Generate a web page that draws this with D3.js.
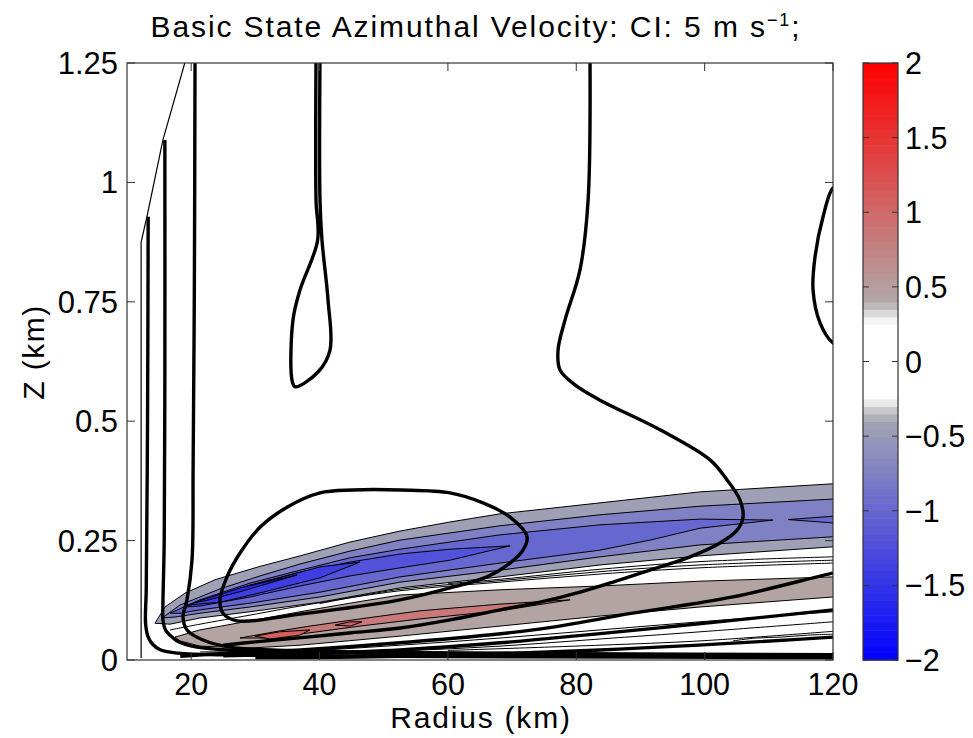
<!DOCTYPE html>
<html><head><meta charset="utf-8">
<script src="https://cdn.jsdelivr.net/npm/d3@7"></script>
<style>body{margin:0;background:#fff}text{font-family:"Liberation Sans",Arial,Helvetica,sans-serif;fill:#000}</style>
</head><body><svg id="c" width="973" height="738"></svg>
<script>
// ---------- axes / ticks ----------
const xDomain=[10,120], yDomain=[0,1.25], cbDomain=[-2,2];
const xTicks=[20,40,60,80,100,120];
const yTicks=[0,0.25,0.5,0.75,1,1.25];
const yTickLabels=["0","0.25","0.5","0.75","1","1.25"];
const cbTicks=[-2,-1.5,-1,-0.5,0,0.5,1,1.5,2];
const cbTickLabels=["\u22122","\u22121.5","\u22121","\u22120.5","0","0.5","1","1.5","2"];
// colormap anchor values / colours
const cmapStops=[-2,-0.4,-0.35,-0.3,-0.25,0.25,0.3,0.35,0.4,2];
const cmapColors=["#0000ff","#a4a4b4","#bdbdbd","#d6d6d6","#ffffff","#ffffff","#e6e6e6","#cccccc","#b2a8a8","#ff0000"];

// ---------- filled field regions (r km, z km) ----------
const negLevels=[-0.45,-0.75,-1.0,-1.0,-1.2,-1.4,-1.6];
const negRegion1=[[14.36,0.077],[15.92,0.111],[19.04,0.140],[23.71,0.168],[30.72,0.196],[36.96,0.218],[44.75,0.247],[52.54,0.270],[60.33,0.289],[68.12,0.306],[83.7,0.329],[99.28,0.352],[120,0.369],[121,0.369],[121,0.237],[120,0.237],[99.28,0.218],[83.7,0.199],[68.12,0.174],[52.54,0.151],[40.07,0.121],[29.17,0.101],[21.37,0.088],[16.7,0.075]];
const negRegion2=[[15.45,0.088],[18.26,0.115],[24.49,0.149],[30.72,0.176],[36.96,0.201],[44.75,0.228],[52.54,0.251],[68.12,0.281],[83.7,0.304],[99.28,0.322],[120,0.337],[121,0.337],[121,0.258],[120,0.258],[99.28,0.241],[83.7,0.216],[68.12,0.188],[52.54,0.163],[40.07,0.132],[29.17,0.111],[21.37,0.098],[17.48,0.090]];
const negRegion3=[[16.7,0.098],[21.37,0.126],[29.17,0.161],[36.96,0.188],[44.75,0.214],[52.54,0.232],[68.12,0.262],[83.7,0.283],[99.28,0.295],[110.66,0.293],[99.28,0.276],[91.49,0.251],[83.7,0.230],[68.12,0.203],[52.54,0.174],[40.07,0.142],[29.17,0.119],[21.37,0.105],[18.26,0.098]];
const negRegion3b=[[113,0.294],[120,0.301],[121,0.301],[121,0.287],[120,0.287]];
const negRegion4=[[19.04,0.111],[29.17,0.157],[36.96,0.184],[44.75,0.205],[52.54,0.222],[60.33,0.232],[69.68,0.239],[60.33,0.209],[52.54,0.193],[44.75,0.176],[36.96,0.155],[29.17,0.132],[21.37,0.113]];
const negRegion4b=[[19.35,0.115],[29.63,0.157],[40.07,0.195],[46.3,0.205],[40.07,0.172],[31.19,0.142],[24.49,0.121]];
const negRegion5=[[20.6,0.121],[27.61,0.151],[36.49,0.178],[27.61,0.143],[22.2,0.124]];
const posLevels=[0.45,0.85,1.1,1.1];
const posRegion1=[[17.48,0.048],[21.37,0.063],[29.17,0.082],[36.96,0.101],[44.75,0.119],[52.54,0.136],[68.12,0.147],[83.7,0.155],[99.28,0.165],[120,0.174],[121,0.174],[121,0.132],[120,0.132],[99.28,0.111],[83.7,0.092],[68.12,0.071],[52.54,0.050],[36.96,0.031],[29.17,0.025],[21.37,0.029],[18.26,0.040]];
const posRegion2=[[27.61,0.046],[33.84,0.061],[38.51,0.071],[46.3,0.086],[55.65,0.103],[68.12,0.117],[79.03,0.126],[68.12,0.103],[55.65,0.086],[46.3,0.071],[38.51,0.057],[32.28,0.046]];
const posRegion3=[[29.9,0.050],[33.8,0.059],[38.5,0.063],[36.9,0.052],[32.3,0.044]];
const posRegion3b=[[42.4,0.073],[44.8,0.080],[46.6,0.080],[44.8,0.071]];
// thin contour lines of the field inside white areas
const thinLine1=[[16.7,0.063],[21.37,0.075],[29.17,0.094],[36.96,0.113],[52.54,0.145],[68.12,0.163],[83.7,0.180],[99.28,0.193],[120,0.203]];
const thinLine2=[[60,0.160],[68.12,0.169],[83.7,0.190],[99.28,0.206],[120,0.216]];
const thinLine2b=[[40,0.118],[52.54,0.148],[68.12,0.166],[83.7,0.185],[99.28,0.199],[120,0.209]];
const thinLine3=[[21.37,0.017],[36.96,0.019],[52.54,0.031],[68.12,0.046],[83.7,0.063],[99.28,0.080],[120,0.101]];
const thinLine4=[[36.96,0.013],[52.54,0.019],[68.12,0.029],[83.7,0.044],[99.28,0.059],[120,0.080]];
const thinLine4b=[[60,0.02],[83.7,0.031],[99.28,0.040],[120,0.060]];
const thinLine5=[[104.4,0.040],[108,0.046],[112,0.048],[116,0.052],[120,0.054]];

// ---------- azimuthal velocity contours (r km, z km) ----------
const boundaryLine=[[12.2,0.004],[12.2,0.875],[13.1,0.928],[15.6,1.089],[19.0,1.25]];
const vLineB=[[13.3,0.928],[13.2,0.5],[13.0,0.15],[12.9,0.075],[13.3,0.048],[14.0,0.033],[15.1,0.022],[17.5,0.015],[25,0.011],[50,0.008],[90,0.006],[121,0.005]];
const vLineC=[[15.9,1.089],[15.9,0.6],[15.8,0.25],[15.6,0.12],[15.6,0.084],[16.0,0.063],[16.7,0.052],[17.8,0.040],[20.9,0.027],[27,0.020],[37,0.016],[60,0.012],[90,0.010],[121,0.009]];
const vLineC2=[[20.6,1.26],[20.5,0.8],[20.3,0.4],[20.13,0.209],[19.35,0.126],[18.73,0.090],[19.35,0.063],[21.84,0.042],[26.05,0.027],[35,0.020],[50,0.016],[80,0.013],[121,0.011]];
const vLineD=[[39.45,1.26],[39.45,0.963],[39.7,0.879],[36.96,0.775],[35.86,0.712],[35.71,0.586],[36.2,0.572],[39.76,0.603],[41.63,0.649],[41.32,0.754],[40.38,0.879],[40.07,0.963],[40.07,1.26]];
const vLineE=[[82.14,1.26],[81.83,0.96],[80.58,0.817],[78.25,0.712],[77.16,0.649],[77.47,0.607],[79.8,0.576],[83.7,0.544],[93.05,0.482],[100.84,0.419],[103.49,0.377],[105.51,0.335],[105.98,0.299],[105.05,0.272],[102.4,0.245],[97.72,0.216],[93.05,0.195],[86.82,0.168],[80.58,0.142],[74.35,0.121],[68.12,0.105],[60.33,0.084],[52.54,0.067],[45,0.057],[38,0.048],[30,0.038],[25,0.031]];
const vLineF=[[121,0.99],[120,0.988],[118.45,0.928],[117.2,0.844],[116.89,0.775],[117.98,0.706],[120,0.664],[121,0.66]];
const vLineH1=[[121,0.184],[120,0.182],[104.4,0.132],[88.8,0.098],[73.3,0.063],[52.5,0.036],[37,0.021],[24.5,0.013],[18.3,0.008]];
const vLineH2=[[121,0.107],[120,0.105],[94.1,0.069],[68.1,0.036],[52.5,0.021],[37,0.013],[25,0.009]];
const vLineH3=[[121,0.049],[120,0.048],[83.7,0.021],[52.5,0.008],[30,0.005]];
const vLoopG=[[34.93,0.320],[40.07,0.350],[45.21,0.356],[52.54,0.356],[60.33,0.350],[65.47,0.329],[69.68,0.299],[72.33,0.258],[71.7,0.230],[69.68,0.203],[66.09,0.174],[60.33,0.151],[52.54,0.126],[36.96,0.096],[27.14,0.082],[24.96,0.098],[24.49,0.126],[25.58,0.174],[27.61,0.224],[30.72,0.278]];

// ---------- drawing ----------
const svg=d3.select("#c");
const X0=127,X1=833,Y0=63,Y1=660;
const x=d3.scaleLinear().domain(xDomain).range([X0,X1]);
const y=d3.scaleLinear().domain(yDomain).range([Y1,Y0]);
const cmap=d3.scaleLinear().domain(cmapStops).range(cmapColors).clamp(true);

svg.append("defs").append("clipPath").attr("id","pc").append("rect")
  .attr("x",X0).attr("y",Y0).attr("width",X1-X0).attr("height",Y1-Y0);
const g=svg.append("g").attr("clip-path","url(#pc)");
g.append("rect").attr("x",X0).attr("y",Y0).attr("width",X1-X0).attr("height",Y1-Y0).attr("fill","#fff");

const lin=d3.line().x(d=>x(d[0])).y(d=>y(d[1]));
const linClosed=d3.line().x(d=>x(d[0])).y(d=>y(d[1])).curve(d3.curveLinearClosed);
const smooth=d3.line().x(d=>x(d[0])).y(d=>y(d[1])).curve(d3.curveCatmullRom.alpha(0.5));
const smoothClosed=d3.line().x(d=>x(d[0])).y(d=>y(d[1])).curve(d3.curveCatmullRomClosed.alpha(0.5));

[thinLine1,thinLine2,thinLine2b,thinLine3,thinLine4,thinLine4b,thinLine5].forEach(l=>{
  g.append("path").attr("d",smooth(l)).attr("fill","none").attr("stroke","#000").attr("stroke-width",1);
});
const negRegions=[negRegion1,negRegion2,negRegion3,negRegion3b,negRegion4,negRegion4b,negRegion5];
const posRegions=[posRegion1,posRegion2,posRegion3,posRegion3b];
negRegions.forEach((r,i)=>{
  g.append("path").attr("d",linClosed(r)).attr("fill",cmap(negLevels[i])).attr("stroke","#000").attr("stroke-width",1);
});
posRegions.forEach((r,i)=>{
  g.append("path").attr("d",linClosed(r)).attr("fill",cmap(posLevels[i])).attr("stroke","#000").attr("stroke-width",1);
});
g.append("path").attr("d",lin(boundaryLine)).attr("fill","none").attr("stroke","#000").attr("stroke-width",1.2);
[vLineB,vLineC,vLineC2,vLineD,vLineE,vLineF,vLineH1,vLineH2,vLineH3].forEach(l=>{
  g.append("path").attr("d",smooth(l)).attr("fill","none").attr("stroke","#000").attr("stroke-width",3.4).attr("stroke-linejoin","round");
});
g.append("path").attr("d",smoothClosed(vLoopG)).attr("fill","none").attr("stroke","#000").attr("stroke-width",3.4);

// frame & ticks
svg.append("rect").attr("x",X0).attr("y",Y0).attr("width",X1-X0).attr("height",Y1-Y0)
  .attr("fill","none").attr("stroke","#333").attr("stroke-width",1.2);
const tk=8;
xTicks.forEach(t=>{
  svg.append("line").attr("x1",x(t)).attr("x2",x(t)).attr("y1",Y1).attr("y2",Y1-tk).attr("stroke","#333");
  svg.append("line").attr("x1",x(t)).attr("x2",x(t)).attr("y1",Y0).attr("y2",Y0+tk).attr("stroke","#333");
  svg.append("text").attr("x",x(t)).attr("y",695).attr("text-anchor","middle").attr("font-size",30.5).text(t);
});
yTicks.forEach((t,i)=>{
  svg.append("line").attr("x1",X0).attr("x2",X0+tk).attr("y1",y(t)).attr("y2",y(t)).attr("stroke","#333");
  svg.append("line").attr("x1",X1).attr("x2",X1-tk).attr("y1",y(t)).attr("y2",y(t)).attr("stroke","#333");
  svg.append("text").attr("x",118).attr("y",y(t)+11).attr("text-anchor","end").attr("font-size",31).text(yTickLabels[i]);
});
svg.append("text").attr("x",481).attr("y",728).attr("text-anchor","middle").attr("font-size",30).attr("letter-spacing",1.8).text("Radius (km)");
svg.append("text").attr("transform","translate(44,352) rotate(-90)").attr("text-anchor","middle").attr("font-size",30).attr("letter-spacing",1.5).text("Z (km)");
const title=svg.append("text").attr("x",476).attr("y",37).attr("text-anchor","middle").attr("font-size",30).attr("letter-spacing",1.9);
title.append("tspan").text("Basic State Azimuthal Velocity: CI: 5 m s");
title.append("tspan").attr("dy",-11).attr("font-size",18).text("\u22121");
title.append("tspan").attr("dy",11).text(";");

// colorbar
const CX0=863,CX1=898;
const cy=d3.scaleLinear().domain(cbDomain).range([Y1,Y0]);
const steps=d3.range(-2,2,0.05);
svg.append("g").selectAll("rect").data(steps).join("rect")
  .attr("x",CX0).attr("width",CX1-CX0)
  .attr("y",d=>cy(d+0.05)).attr("height",d=>cy(d)-cy(d+0.05)+0.6)
  .attr("fill",d=>cmap(d+0.025));
svg.append("rect").attr("x",CX0).attr("y",Y0).attr("width",CX1-CX0).attr("height",Y1-Y0)
  .attr("fill","none").attr("stroke","#333").attr("stroke-width",1.2);
cbTicks.forEach((t,i)=>{
  svg.append("line").attr("x1",CX0).attr("x2",CX0+6).attr("y1",cy(t)).attr("y2",cy(t)).attr("stroke","#333");
  svg.append("line").attr("x1",CX1).attr("x2",CX1-6).attr("y1",cy(t)).attr("y2",cy(t)).attr("stroke","#333");
  svg.append("text").attr("x",905).attr("y",cy(t)+11).attr("font-size",30.5).text(cbTickLabels[i]);
});
</script></body></html>
